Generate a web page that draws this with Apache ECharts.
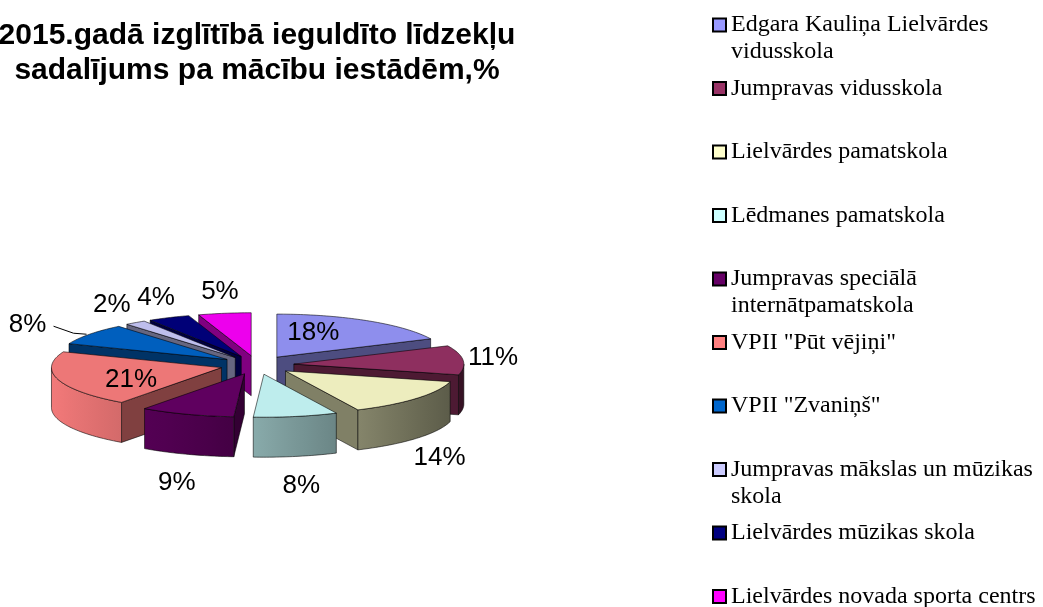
<!DOCTYPE html>
<html>
<head>
<meta charset="utf-8">
<title>Izglītībā ieguldītie līdzekļi 2015</title>
<script src="https://cdn.jsdelivr.net/npm/echarts@6/dist/echarts.min.js"></script>
<style>
  html, body { margin: 0; padding: 0; background: #fff; }
  #main { width: 1043px; height: 607px; }
</style>
</head>
<body>
<div id="main"></div>
<script>
// mācību iestādes (secībā pulksteņrādītāja virzienā no plkst. 12)
var categories = [
  'Edgara Kauliņa Lielvārdes vidusskola',
  'Jumpravas vidusskola',
  'Lielvārdes pamatskola',
  'Lēdmanes pamatskola',
  'Jumpravas speciālā internātpamatskola',
  'VPII "Pūt vējiņi"',
  'VPII "Zvaniņš"',
  'Jumpravas mākslas un mūzikas skola',
  'Lielvārdes mūzikas skola',
  'Lielvārdes novada sporta centrs'
];
// daļa no kopējiem līdzekļiem, %
var shares = [18, 11, 14, 8, 9, 21, 8, 2, 4, 5];
var colors = ['#9999FF', '#993366', '#FFFFCC', '#CCFFFF', '#660066',
              '#FF8080', '#0066CC', '#CCCCFF', '#000080', '#FF00FF'];
// garie nosaukumi leģendā divās rindās (tukšā rinda sākumā, lai ikona būtu pie pirmās rindas)
var legendText = {
  'Edgara Kauliņa Lielvārdes vidusskola': ' \nEdgara Kauliņa Lielvārdes\nvidusskola',
  'Jumpravas speciālā internātpamatskola': ' \nJumpravas speciālā\ninternātpamatskola',
  'Jumpravas mākslas un mūzikas skola': ' \nJumpravas mākslas un mūzikas\nskola'
};

// "3D" pīrāga ģeometrija
var CX = 257, CY = 365, RX = 170, RY = 43, DEPTH = 40, EXPLODE = 37;
var total = shares.reduce(function (a, b) { return a + b; }, 0);
var starts = [];
var acc = 0;
shares.forEach(function (v) { starts.push(acc); acc += v; });

function shade(hex, f) {
  var n = parseInt(hex.slice(1), 16);
  var r = Math.round(((n >> 16) & 255) * f);
  var g = Math.round(((n >> 8) & 255) * f);
  var b = Math.round((n & 255) * f);
  return 'rgb(' + r + ',' + g + ',' + b + ')';
}

var EDGE = 'rgba(0,0,0,0.7)';

function renderSlice(params, api) {
  var i = params.seriesIndex;
  var v = api.value(0);
  var a0 = starts[i] / total * 2 * Math.PI;
  var a1 = a0 + v / total * 2 * Math.PI;
  var mid = (a0 + a1) / 2;
  var k = RY / RX;
  var ox = CX + EXPLODE * Math.sin(mid);
  var oy = CY - EXPLODE * k * Math.cos(mid);
  var base = colors[i];
  function pt(t, h) { return [ox + RX * Math.sin(t), oy - RY * Math.cos(t) + (h || 0)]; }
  function arc(t0, t1, h) {
    var n = Math.max(2, Math.ceil((t1 - t0) / 0.02));
    var out = [];
    for (var j = 0; j <= n; j++) out.push(pt(t0 + (t1 - t0) * j / n, h));
    return out;
  }
  var children = [];

  // priekšējā izliektā mala
  var w0 = Math.max(a0, Math.PI / 2), w1 = Math.min(a1, 3 * Math.PI / 2);
  if (w1 > w0) {
    var top = arc(w0, w1, 0);
    var bot = arc(w0, w1, DEPTH).reverse();
    var xs = top.map(function (p) { return p[0]; });
    var xmin = Math.min.apply(null, xs), xmax = Math.max.apply(null, xs);
    var stops = [];
    for (var j = 0; j <= 8; j++) {
      var t = w0 + (w1 - w0) * j / 8;
      var off = xmax > xmin ? (pt(t)[0] - xmin) / (xmax - xmin) : 0;
      stops.push({ offset: off, color: shade(base, 0.65 - 0.3 * Math.sin(t)) });
    }
    stops.sort(function (p, q) { return p.offset - q.offset; });
    var ym = top.reduce(function (s, p) { return s + p[1]; }, 0) / top.length + DEPTH / 2;
    children.push({
      type: 'polygon', z2: Math.round(ym),
      shape: { points: top.concat(bot) },
      style: { fill: new echarts.graphic.LinearGradient(0, 0, 1, 0, stops), stroke: EDGE, lineWidth: 0.8 }
    });
  }

  // radiālās malas
  function radial(t) {
    var p = pt(t, 0);
    return {
      type: 'polygon', z2: Math.round((oy + p[1]) / 2 + DEPTH / 2),
      shape: { points: [[ox, oy], p, [p[0], p[1] + DEPTH], [ox, oy + DEPTH]] },
      style: { fill: shade(base, 0.5), stroke: EDGE, lineWidth: 0.8 }
    };
  }
  if (Math.sin(a0) < -1e-6) children.push(radial(a0));
  if (Math.sin(a1) > 1e-6) children.push(radial(a1));

  // augšējā virsma
  children.push({
    type: 'polygon', z2: 1000,
    shape: { points: [[ox, oy]].concat(arc(a0, a1, 0)) },
    style: { fill: shade(base, 0.93), stroke: EDGE, lineWidth: 0.8 }
  });

  // procentu uzraksts
  var s = Math.sin(mid), c = Math.cos(mid);
  var lx, ly;
  if (v / total >= 0.15) {
    var la = mid - 0.2;
    lx = ox + 0.6 * RX * Math.sin(la);
    ly = oy - 0.6 * RY * Math.cos(la);
  } else {
    var ax = ox + RX * s, ay = oy - RY * c + (c < 0 ? DEPTH : 0);
    if (c > 0.3 && s < -0.7) {
      lx = ax - 62; ly = ay - 9;
      children.push({
        type: 'polyline', z2: 2000,
        shape: { points: [[lx + 26, ly + 1], [ax - 16, ay - 1], [ax - 3, ay]] },
        style: { stroke: '#000', lineWidth: 1, fill: null }
      });
    } else {
      lx = ax + (c > 0.7 && s < -0.5 ? 40 : 30) * s;
      ly = ay - (c < 0 ? 30 : 22) * c;
    }
  }
  children.push({
    type: 'text', z2: 2000, x: lx, y: ly,
    style: {
      text: Math.round(v / total * 100) + '%',
      fill: '#000', fontSize: 26, fontFamily: 'Liberation Sans, Arial, sans-serif',
      align: 'center', verticalAlign: 'middle'
    }
  });

  return { type: 'group', children: children };
}

var chart = echarts.init(document.getElementById('main'));

var series = categories.map(function (name, i) {
  return {
    type: 'custom',
    name: name,
    coordinateSystem: 'none',
    itemStyle: { color: colors[i] },
    data: [shares[i]],
    renderItem: renderSlice,
    silent: true
  };
});

var legends = categories.map(function (name, i) {
  var twoLines = !!legendText[name];
  var y0 = 25 + i * 63.5;
  return {
    orient: 'vertical',
    left: 712,
    top: twoLines ? y0 - 40.5 : y0 - 13.5,
    padding: 0,
    icon: 'rect',
    itemWidth: 13,
    itemHeight: 13,
    itemStyle: { borderColor: '#000', borderWidth: 2 },
    data: [name],
    formatter: function (n) { return legendText[n] || n; },
    textStyle: {
      color: '#000',
      fontFamily: 'Liberation Serif, Times New Roman, serif',
      fontSize: 24,
      lineHeight: 27
    }
  };
});

chart.setOption({
  backgroundColor: '#fff',
  animation: false,
  title: {
    text: '2015.gadā izglītībā ieguldīto līdzekļu\nsadalījums pa mācību iestādēm,%',
    left: 252,
    top: 13,
    textAlign: 'center',
    textStyle: {
      color: '#000',
      fontFamily: 'Liberation Sans, Arial, sans-serif',
      fontWeight: 'bold',
      fontSize: 30,
      lineHeight: 35
    }
  },
  legend: legends,
  series: series
});
</script>
</body>
</html>
